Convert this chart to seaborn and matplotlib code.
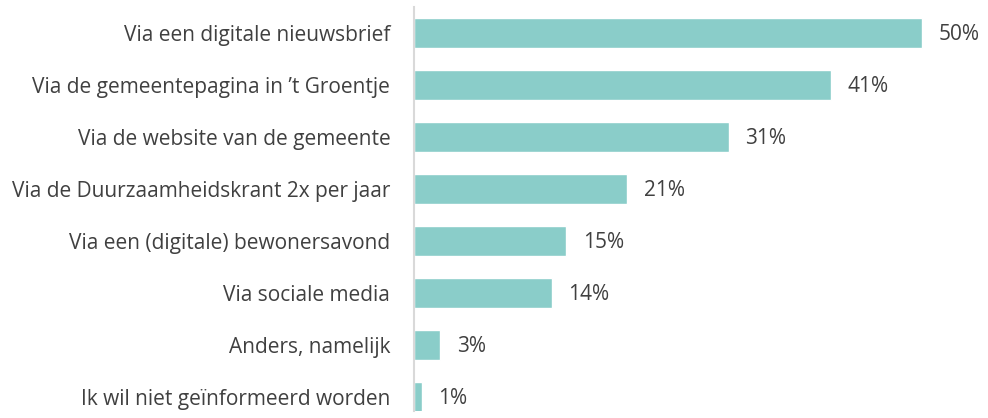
import pandas as pd
import matplotlib.pyplot as plt
import seaborn as sns

# answer categories and share of respondents (%)
categories = [
    'Via een digitale nieuwsbrief',
    'Via de gemeentepagina in \u2019t Groentje',
    'Via de website van de gemeente',
    'Via de Duurzaamheidskrant 2x per jaar',
    'Via een (digitale) bewonersavond',
    'Via sociale media',
    'Anders, namelijk',
    'Ik wil niet ge\u00efnformeerd worden',
]
percentages = [50, 41, 31, 21, 15, 13.6, 2.6, 0.8]
labels = ['50%', '41%', '31%', '21%', '15%', '14%', '3%', '1%']

df = pd.DataFrame({'categorie': categories, 'pct': percentages})

sns.set_style('white')
plt.rcParams['font.family'] = ['Open Sans', 'DejaVu Sans']

fig = plt.figure(figsize=(9.88, 4.18), dpi=100)
ax = fig.add_axes([0.419, 0.0167, 0.566, 0.966])

sns.barplot(data=df, x='pct', y='categorie', color='#8ACDC9', saturation=1,
            width=0.58, ax=ax)

# value labels next to the bars
for i, (v, lab) in enumerate(zip(percentages, labels)):
    ax.text(v + 1.6, i + 0.03, lab, va='center', ha='left', fontsize=15, color='#404040')

ax.set_xlim(0, 55)
ax.set_ylim(7.27, -0.5)
ax.set_xlabel('')
ax.set_ylabel('')
ax.set_xticks([])
ax.tick_params(axis='y', length=0, pad=17, labelsize=15, labelcolor='#404040')
sns.despine(ax=ax, top=True, right=True, bottom=True)
ax.spines['left'].set_color('#d9d9d9')
ax.spines['left'].set_linewidth(1.5)

plt.savefig('out.png', dpi=100)
